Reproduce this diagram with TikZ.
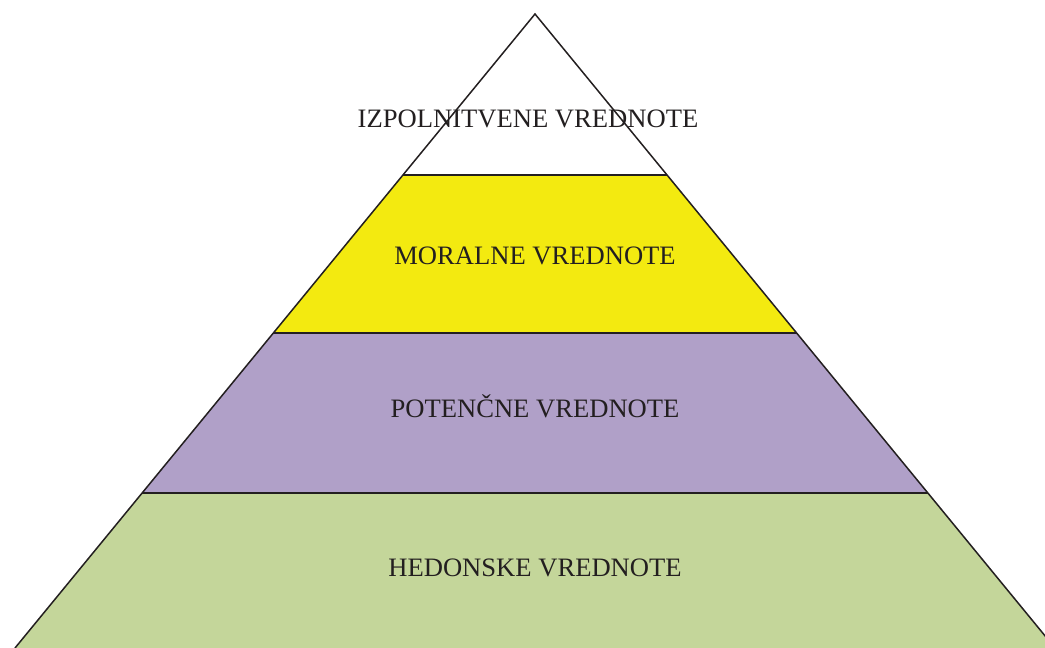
\documentclass[tikz,border=0pt]{standalone}
\usepackage{fontspec}
\setmainfont{Liberation Serif}
\usepackage{tikz}
\usetikzlibrary{calc}
\definecolor{moralyellow}{HTML}{F3EA10}
\definecolor{potenpurple}{HTML}{B0A0C8}
\definecolor{hedongreen}{HTML}{C4D69A}
\definecolor{textdark}{HTML}{231F20}

\begin{document}
\begin{tikzpicture}[x=1pt,y=-1pt,
    edge/.style={line width=1.5pt,textdark},
    level/.style={anchor=base,textdark,font=\fontsize{26.6}{30}\selectfont}]
  \useasboundingbox (0,0) rectangle (1045,648);
  \clip (0,0) rectangle (1045,648);
  % piramida
  \coordinate (apex) at (535,14);
  \coordinate (bl) at (15,648);
  \coordinate (br) at (1055,648);
  \coordinate (l1) at ($(apex)!0.254!(bl)$);
  \coordinate (r1) at ($(apex)!0.254!(br)$);
  \coordinate (l2) at ($(apex)!0.503!(bl)$);
  \coordinate (r2) at ($(apex)!0.503!(br)$);
  \coordinate (l3) at ($(apex)!0.7555!(bl)$);
  \coordinate (r3) at ($(apex)!0.7555!(br)$);
  % pasovi
  \fill[moralyellow] (l1) -- (r1) -- (r2) -- (l2) -- cycle;
  \fill[potenpurple] (l2) -- (r2) -- (r3) -- (l3) -- cycle;
  \fill[hedongreen] (l3) -- (r3) -- (br) -- (bl) -- cycle;
  % robovi
  \draw[edge] (bl) -- (apex) -- (br);
  \draw[edge] (l1) -- (r1);
  \draw[edge] (l2) -- (r2);
  \draw[edge] (l3) -- (r3);
  % napisi
  \node[level] (izpol) at (528,127) {IZPOLNITVENE VREDNOTE};
  \node[level] (moral) at (535,264) {MORALNE VREDNOTE};
  \node[level] (poten) at (535,417) {POTENČNE VREDNOTE};
  \node[level] (hedon) at (535,576) {HEDONSKE VREDNOTE};
\end{tikzpicture}
\end{document}
